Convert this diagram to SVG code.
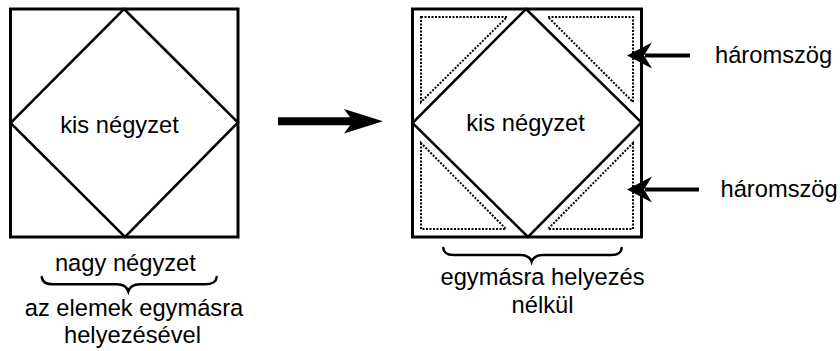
<svg xmlns="http://www.w3.org/2000/svg" width="840" height="351" viewBox="0 0 840 351">
<style>
text{font-family:"Liberation Sans",Arial,sans-serif;font-size:23.7px;fill:#000}
.sq{fill:none;stroke:#000;stroke-width:3}
.dm{fill:none;stroke:#000;stroke-width:2.5;stroke-linejoin:miter}
.dot{fill:none;stroke:#000;stroke-width:2;stroke-dasharray:2 1.5}
.br{fill:none;stroke:#000;stroke-width:2.5;stroke-linecap:round}
.mid{text-anchor:middle}
</style>
<rect width="840" height="351" fill="#fff"/>
<g id="left-square">
<rect class="sq" x="10.5" y="9" width="227.5" height="228"/>
<polygon class="dm" points="124,9 238,122.5 125,237 10.5,123"/>
<text class="mid" x="119.5" y="133">kis négyzet</text>
</g>
<g id="left-brace">
<path class="br" d="M41.7,277 Q42.5,284.3 53,284.3 L117,284.3 Q126,284.3 128.3,291.5 Q130.6,284.3 140,284.3 L205,284.3 Q216,284.3 216.7,277"/>
<text class="mid" x="125.4" y="271">nagy négyzet</text>
<text class="mid" x="134" y="316">az elemek egymásra</text>
<text class="mid" x="132.5" y="343">helyezésével</text>
</g>
<g id="right-square">
<rect class="sq" x="412.5" y="9" width="229" height="228"/>
<polygon class="dot" points="421,17 507,17 421,102"/>
<polygon class="dot" points="548,17 633,17 633,102"/>
<polygon class="dot" points="421,143 421,229 506,229"/>
<polygon class="dot" points="633,143 633,229 548,229"/>
<polygon class="dm" points="526,9 641.5,122.5 528,237 412.5,123"/>
<text class="mid" x="525.5" y="131">kis négyzet</text>
</g>
<g id="right-brace">
<path class="br" d="M443.3,248 Q444,255 454,255 L520,255 Q529.5,255 531.7,261.7 Q534,255 543,255 L611,255 Q621,255 621.7,248"/>
<text class="mid" x="542.5" y="285">egymásra helyezés</text>
<text class="mid" x="542.5" y="313">nélkül</text>
</g>
<g id="label-top">
<text x="715" y="63">háromszög</text>
</g>
<g id="label-bottom">
<text x="720.5" y="196.5">háromszög</text>
</g>
<g id="connectors">
<line x1="278" y1="121.2" x2="355" y2="121.2" stroke="#000" stroke-width="8"/>
<polygon points="383,121.2 344,109 353,121.2 344,133.4" fill="#000"/>
<line x1="690" y1="55.5" x2="645" y2="55.5" stroke="#000" stroke-width="4"/>
<polygon points="627,55.5 652,42.5 644,55.5 652,68.5" fill="#000"/>
<line x1="699" y1="189.5" x2="645" y2="189.5" stroke="#000" stroke-width="4"/>
<polygon points="627,189.5 652,176.5 644,189.5 652,202.5" fill="#000"/>
</g>
</svg>
